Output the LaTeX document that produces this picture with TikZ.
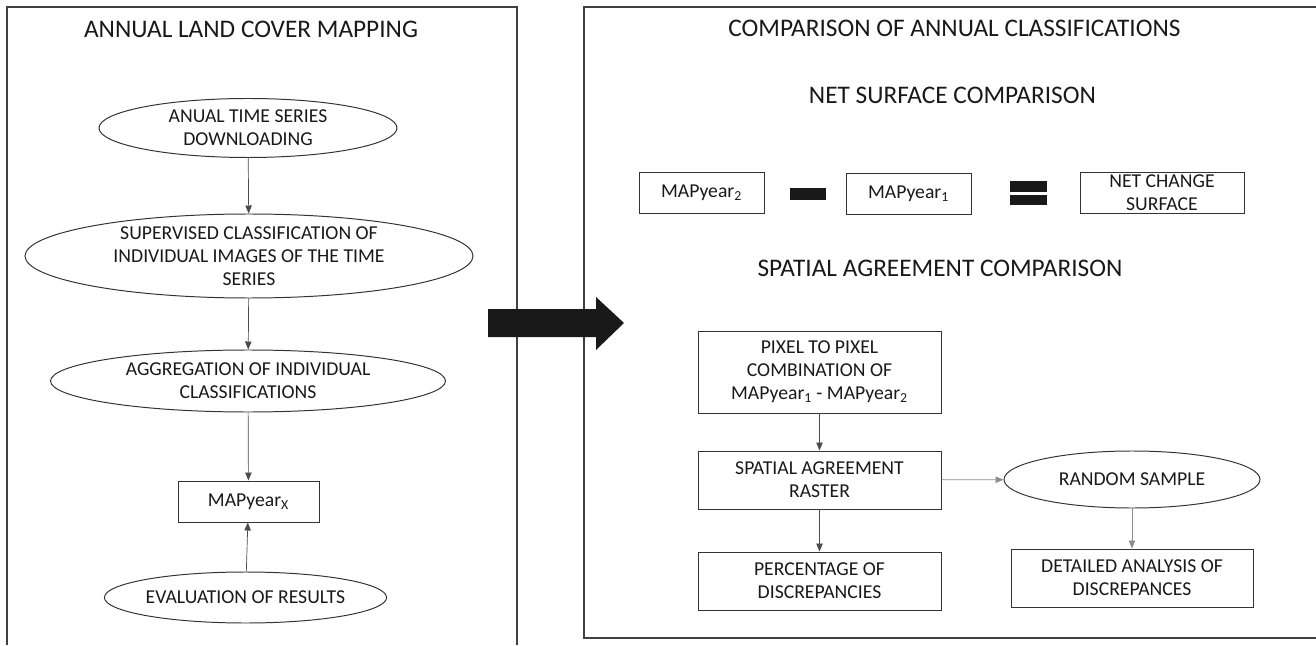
\documentclass[tikz,border=0pt]{standalone}
\usepackage{fontspec}
\setmainfont{Carlito}
\usetikzlibrary{shapes.geometric,arrows.meta}

\begin{document}
\begin{tikzpicture}[
    every node/.style={font=\fontsize{14}{16.4}\selectfont, text=black!90, align=center},
    panel/.style={line width=1pt, draw=black!75},
    oval/.style={ellipse, draw=black!80, line width=0.7pt, inner sep=0pt},
    box/.style={rectangle, draw=black!80, line width=0.7pt, inner sep=0pt},
    title/.style={font=\fontsize{18}{21}\selectfont},
    link/.style={draw=black!70, line width=0.5pt, -{Triangle[length=2mm,width=1.6mm]}},
    greylink/.style={link, draw=black!45},
    bar/.style={fill=black!90}
]
    \useasboundingbox (0,0) rectangle (32.9,16.125);
    \draw[panel] (0.175,0) -- (0.175,15.95) -- (12.925,15.95) -- (12.925,0);
    \draw[panel] (32.9,15.95) -- (14.6,15.95) -- (14.6,0.175) -- (32.9,0.175);
    \fill[bar] (12.2,8.4) -- (14.9,8.4) -- (14.9,8.7) -- (15.6,8.05) -- (14.9,7.375) -- (14.9,7.7) -- (12.2,7.7) -- cycle;

    \node[title] (tmap) at (6.275,15.4) {ANNUAL LAND COVER MAPPING};
    \node[oval, minimum width=7.45cm, minimum height=1.475cm, inner ysep=-2pt] (down) at (6.2,12.925) {ANUAL TIME SERIES\\DOWNLOADING};
    \node[oval, minimum width=11.2cm, minimum height=2.1cm, inner ysep=-4pt] (super) at (6.225,9.725) {SUPERVISED CLASSIFICATION OF\\INDIVIDUAL IMAGES OF THE TIME\\SERIES};
    \node[oval, minimum width=9.875cm, minimum height=1.55cm, inner ysep=-2pt] (aggr) at (6.2,6.6) {AGGREGATION OF INDIVIDUAL\\CLASSIFICATIONS};
    \node[box, minimum width=3.525cm, minimum height=1.025cm] (mapx) at (6.2125,3.5875) {MAPyear\textsubscript{X}};
    \node[oval, minimum width=6.275cm, minimum height=1.275cm] (eval) at (6.1375,1.1875) {EVALUATION OF RESULTS};
    \draw[link] (down) -- (super);
    \draw[link] (super) -- (aggr);
    \draw[link] (aggr) -- (mapx);
    \draw[link] (eval) -- (mapx);

    \node[title] (tcomp) at (23.86,15.425) {COMPARISON OF ANNUAL CLASSIFICATIONS};
    \node[title] (tnet) at (23.81,13.75) {NET SURFACE COMPARISON};
    \node[title] (tspat) at (23.5,9.425) {SPATIAL AGREEMENT COMPARISON};

    \node[box, minimum width=3.125cm, minimum height=1.025cm] (mtwo) at (17.5375,11.3125) {MAPyear\textsubscript{2}};
    \fill[bar] (19.75,11.125) rectangle (20.65,11.425);
    \node[box, minimum width=3.125cm, minimum height=1.025cm] (mone) at (22.7125,11.2875) {MAPyear\textsubscript{1}};
    \fill[bar] (25.25,11.325) rectangle (26.175,11.6);
    \fill[bar] (25.25,11.0) rectangle (26.175,11.25);
    \node[box, minimum width=4.1cm, minimum height=1.025cm, inner ysep=-1pt] (netc) at (29.05,11.3125) {NET CHANGE\\SURFACE};

    \node[box, minimum width=6.075cm, minimum height=2.05cm] (pix) at (20.4875,6.825) {PIXEL TO PIXEL\\COMBINATION OF\\MAPyear\textsubscript{1} - MAPyear\textsubscript{2}};
    \node[box, minimum width=6.075cm, minimum height=1.45cm] (rast) at (20.4875,4.125) {SPATIAL AGREEMENT\\RASTER};
    \node[box, minimum width=6.075cm, minimum height=1.45cm] (perc) at (20.4875,1.6) {PERCENTAGE OF\\DISCREPANCIES};
    \node[oval, minimum width=6.4cm, minimum height=1.425cm] (rand) at (28.3,4.1375) {RANDOM SAMPLE};
    \node[box, minimum width=6.05cm, minimum height=1.45cm] (det) at (28.3,1.675) {DETAILED ANALYSIS OF\\DISCREPANCES};
    \draw[link] (pix) -- (rast);
    \draw[link] (rast) -- (perc);
    \draw[greylink] (rast) -- (rand);
    \draw[greylink] (rand) -- (det);
\end{tikzpicture}
\end{document}
